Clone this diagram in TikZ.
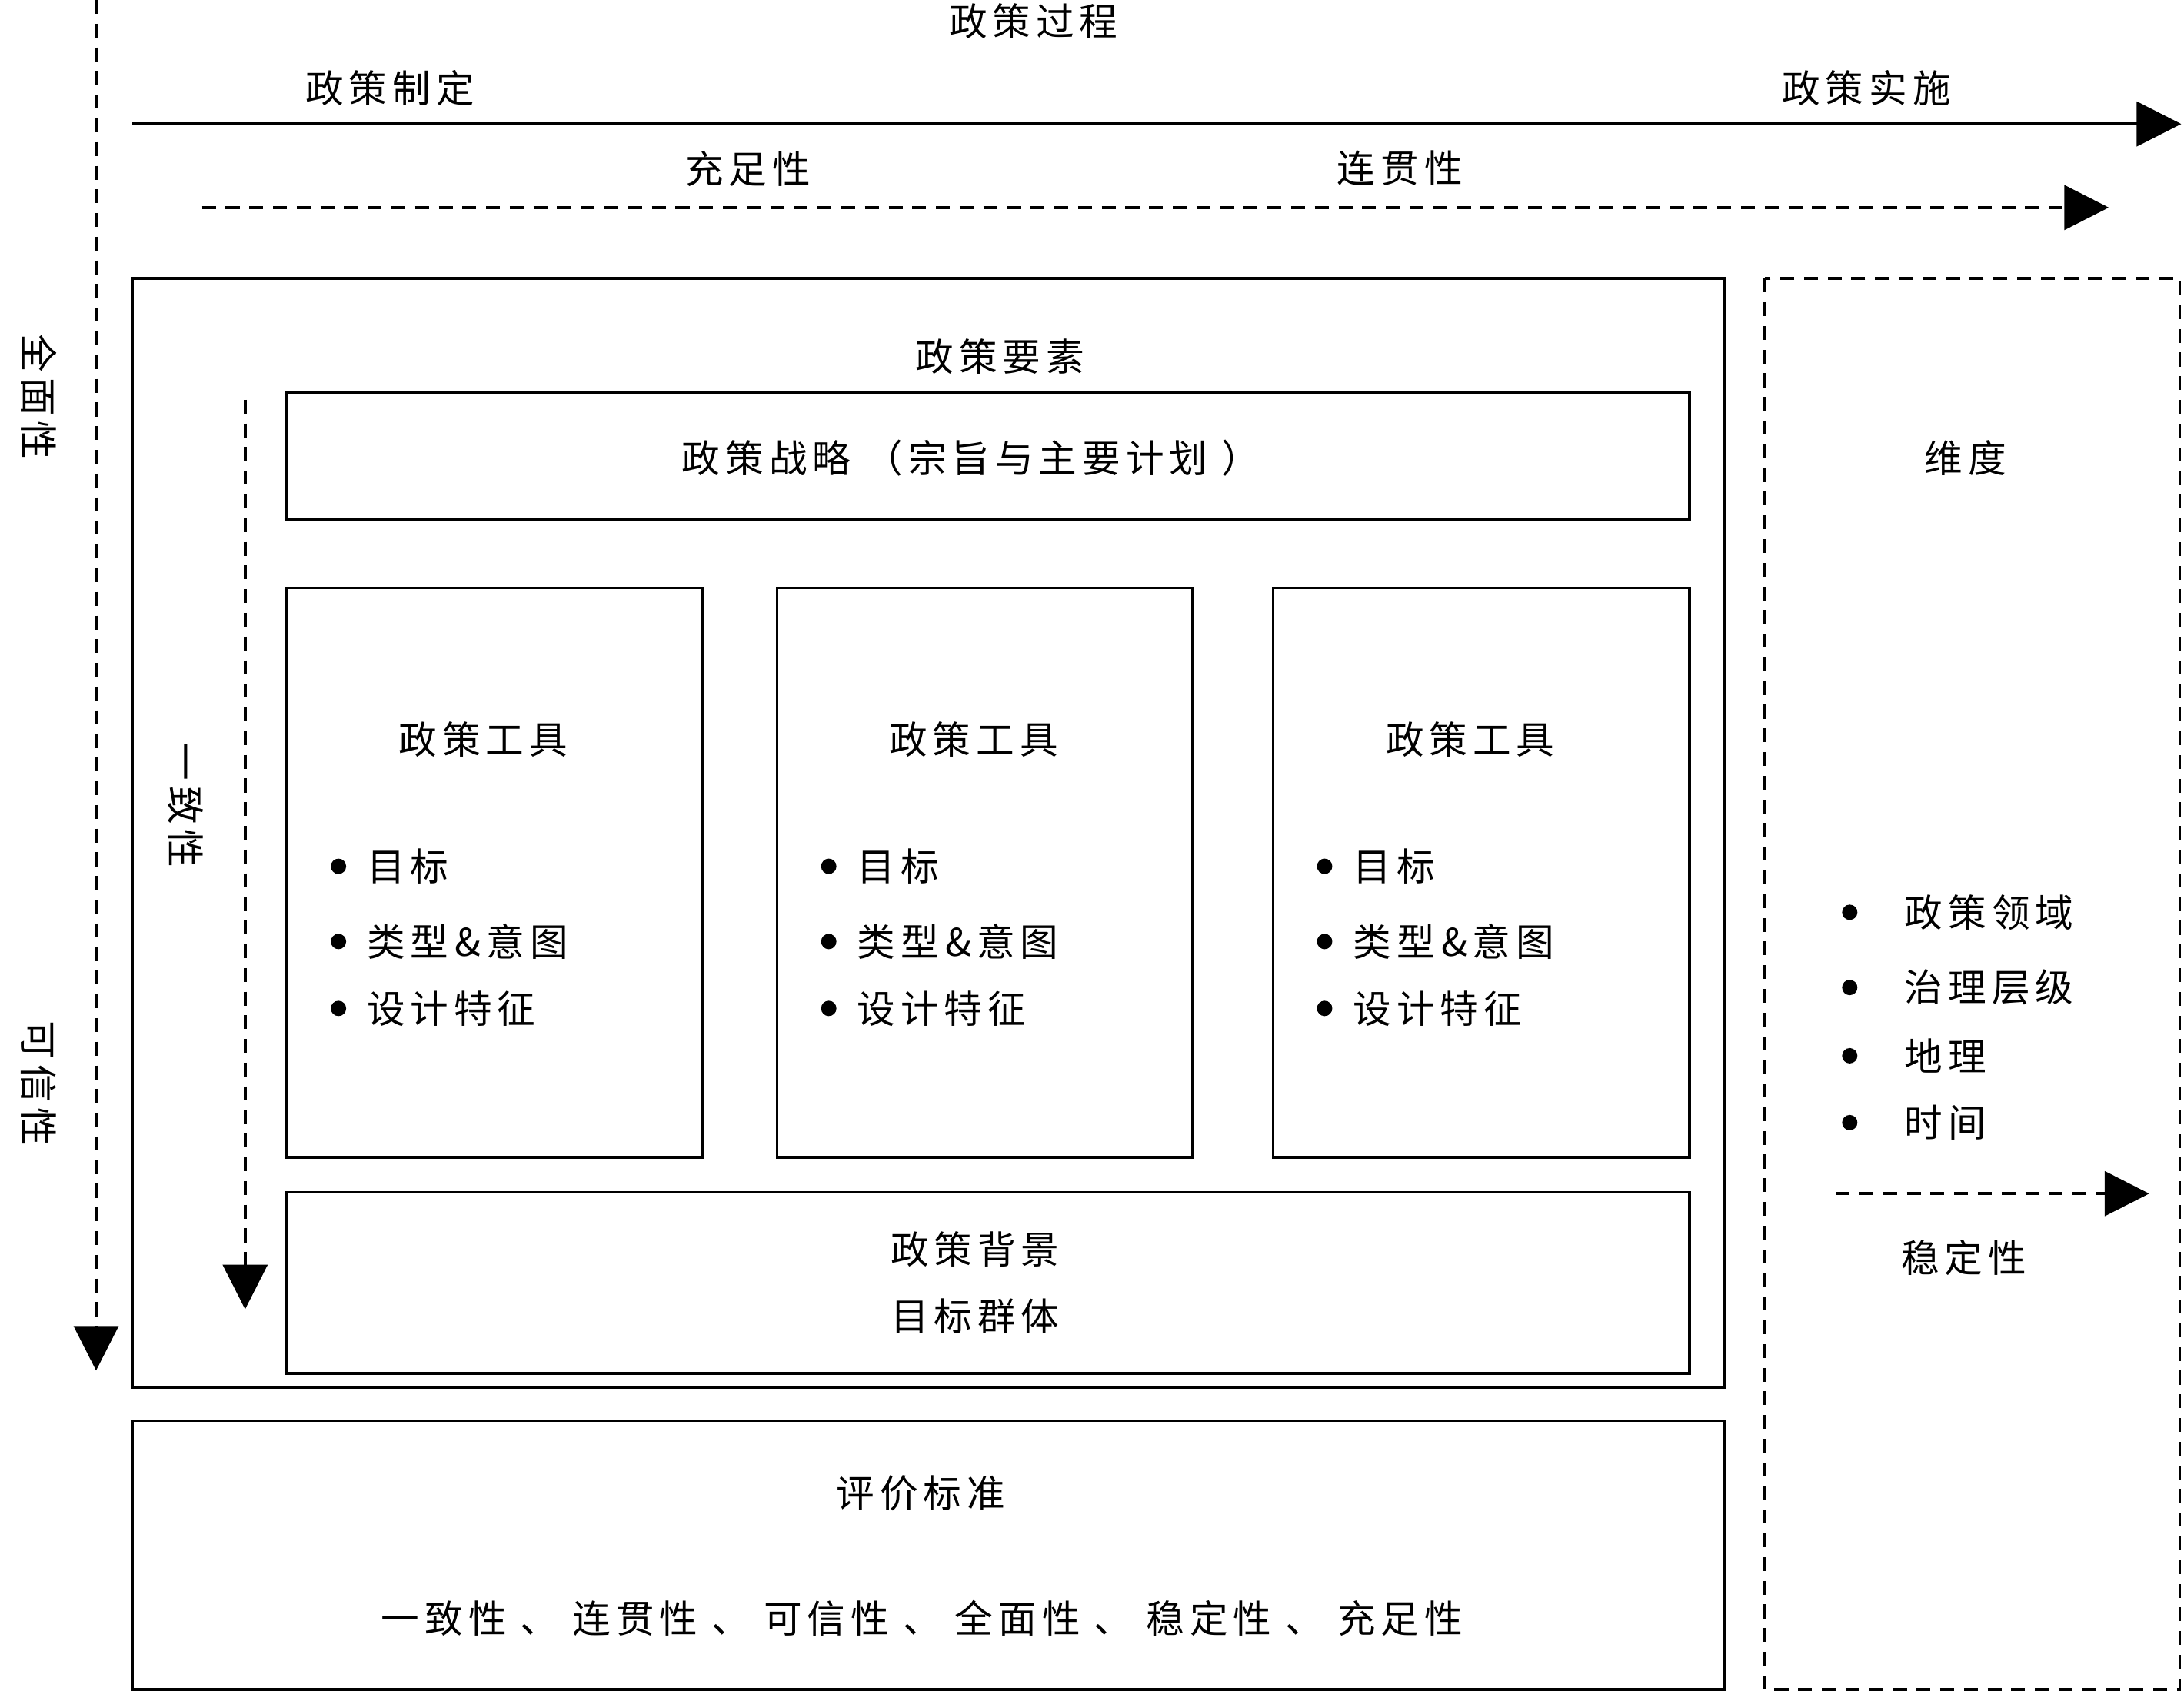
\documentclass[tikz,border=0pt]{standalone}
\usepackage{fontspec}
\setmainfont[LetterSpace=14]{Noto Sans CJK SC}
\usetikzlibrary{arrows.meta}
\begin{document}
\begin{tikzpicture}[x=0.05cm,y=-0.05cm,
  every node/.style={font=\fontsize{39}{46}\selectfont},
  ln/.style={line width=0.1cm},
  box/.style={ln,draw},
  dbox/.style={ln,draw,dash pattern=on 0.5cm off 0.35cm},
  tip/.style={-{Triangle[length=1.6cm,width=1.6cm]}},
  dsh/.style={dash pattern=on 0.5cm off 0.35cm},
  dot/.style={circle,fill,inner sep=0pt,minimum size=0.55cm},
  lbl/.style={anchor=west}]
\useasboundingbox (0,0) rectangle (1568,1214);
\node (t0) at (742,15) {政策过程};
\node (t1) at (280,63) {政策制定};
\node (t2) at (1340,63) {政策实施};
\coordinate (a1) at (95,89); \coordinate (a2) at (1566,89);
\draw[ln,tip] (a1) -- (a2);
\node (t3) at (537,121) {充足性};
\node (t4) at (1005,121) {连贯性};
\coordinate (b1) at (145,149); \coordinate (b2) at (1514,149);
\draw[ln,dsh,tip] (b1) -- (b2);
\coordinate (c1) at (69,0); \coordinate (c2) at (69,984);
\draw[ln,dsh,tip] (c1) -- (c2);
\node[rotate=-90] (t5) at (28,285) {全面性};
\node[rotate=-90] (t6) at (28,778) {可信性};
\draw[box] (95,200) rectangle (1238,996);
\node (t7) at (718,256) {政策要素};
\coordinate (d1) at (176,287); \coordinate (d2) at (176,940);
\draw[ln,dsh,tip] (d1) -- (d2);
\node[rotate=-90] (t8) at (133,578) {一致性};
\draw[box] (206,282) rectangle (1213,373);
\node (s) at (697,329) {政策战略 （宗旨与主要计划 ）};
\foreach \xa/\xb/\n in {206/504/1,558/856/2,914/1213/3}{
  \draw[box] (\xa,422) rectangle (\xb,831);
  \node (h\n) at ({(\xa+\xb)/2-8},531) {政策工具};
  \node[dot] (p\n a) at (\xa+37,622) {};
  \node[dot] (p\n b) at (\xa+37,676) {};
  \node[dot] (p\n c) at (\xa+37,724) {};
  \node[lbl] (l\n a) at (\xa+55,622) {目标};
  \node[lbl] (l\n b) at (\xa+55,676) {类型\,\&意图};
  \node[lbl] (l\n c) at (\xa+55,724) {设计特征};
}
\draw[box] (206,856) rectangle (1213,986);
\node (bg) at (700,897) {政策背景};
\node (tg) at (700,945) {目标群体};
\draw[box] (95,1020) rectangle (1238,1213);
\node (ev) at (661,1072) {评价标准};
\node (el) at (662,1162) {一致性 、 连贯性 、 可信性 、 全面性 、 稳定性 、 充足性};
\draw[dbox] (1267,200) rectangle (1565,1213);
\node (wd) at (1411,329) {维度};
\foreach \y/\t/\n in {655/政策领域/1,709/治理层级/2,758/地理/3,806/时间/4}{
  \node[dot] (q\n) at (1328,\y) {};
  \node[lbl] (m\n) at (1365,\y) {\t};
}
\coordinate (e1) at (1318,857); \coordinate (e2) at (1543,857);
\draw[ln,dsh,tip] (e1) -- (e2);
\node (st) at (1410,903) {稳定性};
\end{tikzpicture}
\end{document}
